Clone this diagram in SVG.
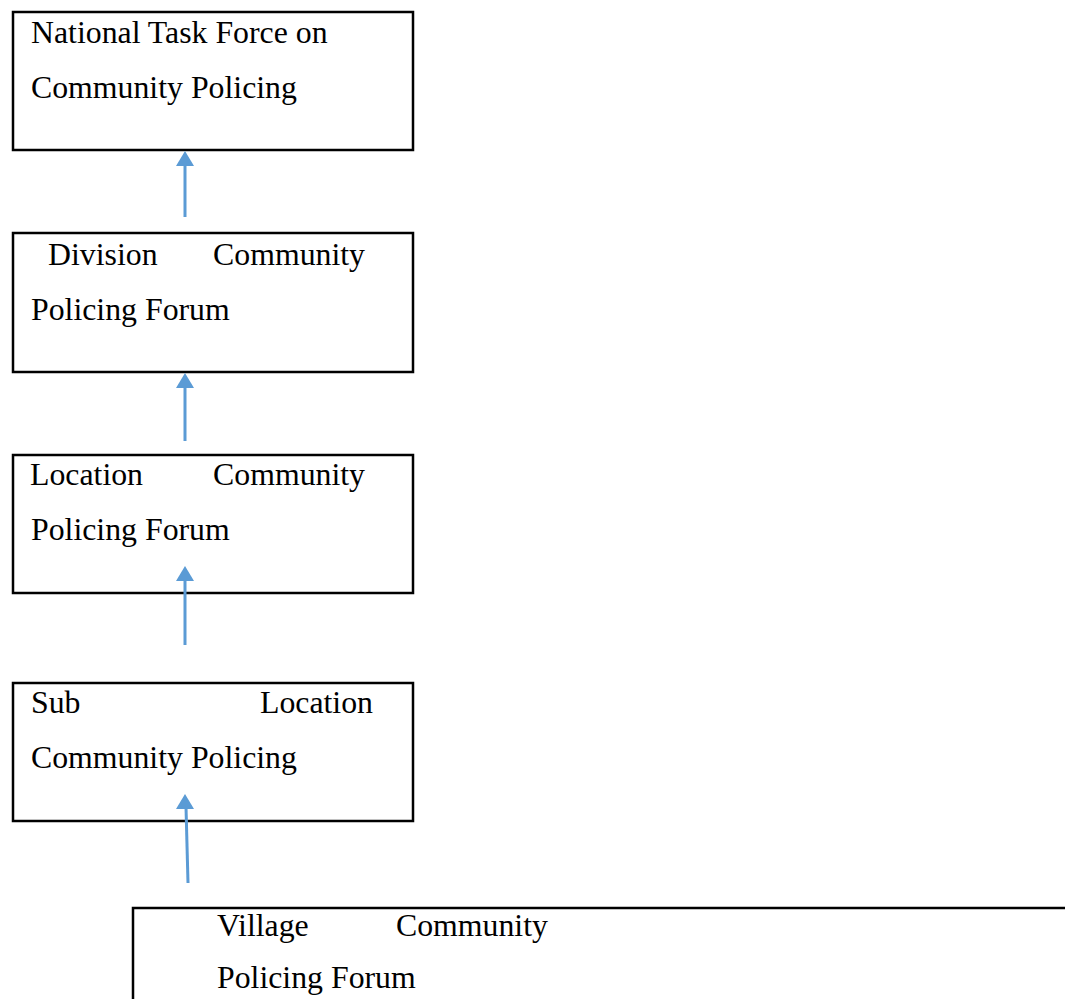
<svg xmlns="http://www.w3.org/2000/svg" width="1065" height="999" viewBox="0 0 1065 999">
<style>
.box{fill:#fff;stroke:#000;stroke-width:2.5}
.t{font-family:"Liberation Serif","Times New Roman",serif;font-size:31.8px;fill:#000}
.e{text-anchor:end}
.c{stroke:#5B9BD5;stroke-width:3;fill:none}
.h{fill:#5B9BD5}
</style>
<rect width="1065" height="999" fill="#fff"/>
<g id="n1">
<rect class="box" x="13" y="12" width="400" height="138"/>
<text class="t" x="31" y="43">National Task Force on</text>
<text class="t" x="31" y="98">Community Policing</text>
</g>
<g id="n2">
<rect class="box" x="13" y="233" width="400" height="139"/>
<text class="t" x="48" y="265">Division</text>
<text class="t e" x="365" y="265">Community</text>
<text class="t" x="31" y="320">Policing Forum</text>
</g>
<g id="n3">
<rect class="box" x="13" y="455" width="400" height="138"/>
<text class="t" x="30" y="485">Location</text>
<text class="t e" x="365" y="485">Community</text>
<text class="t" x="31" y="540">Policing Forum</text>
</g>
<g id="n4">
<rect class="box" x="13" y="683" width="400" height="138"/>
<text class="t" x="31" y="713">Sub</text>
<text class="t e" x="373" y="713">Location</text>
<text class="t" x="31" y="768">Community Policing</text>
</g>
<g id="n5">
<rect class="box" x="133" y="908" width="945" height="110"/>
<text class="t" x="217" y="936">Village</text>
<text class="t" x="396" y="936">Community</text>
<text class="t" x="217" y="988">Policing Forum</text>
</g>
<g id="connectors">
<line class="c" x1="185" y1="217" x2="185" y2="164"/>
<polygon class="h" points="185,151 176,166 194,166"/>
<line class="c" x1="185" y1="441" x2="185" y2="386"/>
<polygon class="h" points="185,373 176,388 194,388"/>
<line class="c" x1="185" y1="645" x2="185" y2="579"/>
<polygon class="h" points="185,566 176,581 194,581"/>
<line class="c" x1="188" y1="883" x2="186" y2="807"/>
<polygon class="h" points="185,794 176,809 194,809"/>
</g>
</svg>
